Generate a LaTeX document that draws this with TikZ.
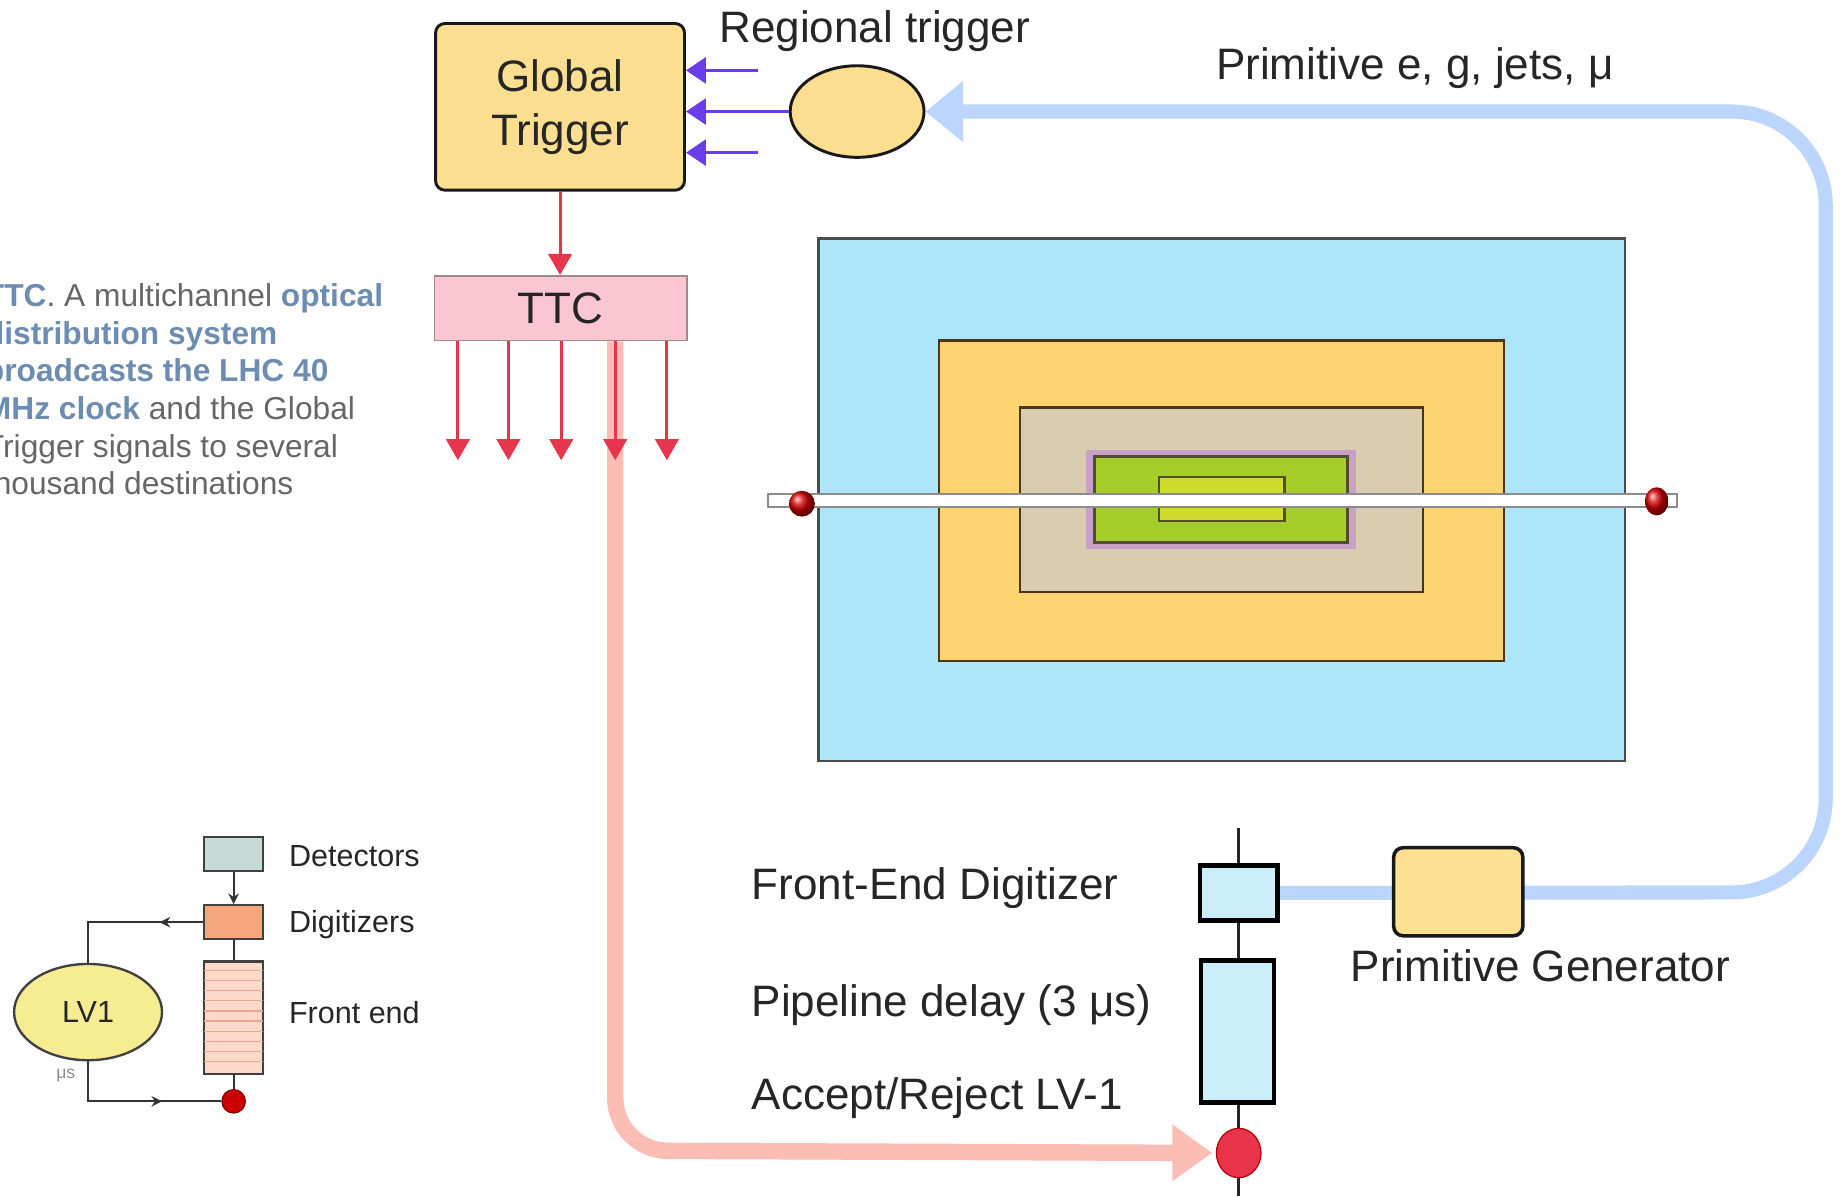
\documentclass[tikz,border=0pt]{standalone}
\usepackage{fontspec}
\setmainfont{Liberation Sans}
\usetikzlibrary{arrows.meta,shapes.geometric,decorations.markings,calc}

\definecolor{gtfill}{HTML}{FCDE90}
\definecolor{ttcfill}{HTML}{F9C6D1}
\definecolor{ttcdraw}{HTML}{9A8A8E}
\definecolor{redc}{HTML}{E6354D}
\definecolor{purpc}{HTML}{6A3DE8}
\definecolor{bluepath}{HTML}{BCD5FC}
\definecolor{pinkpath}{HTML}{FBBDB4}
\definecolor{detouter}{HTML}{AEE6F9}
\definecolor{detorange}{HTML}{FDD46F}
\definecolor{dettan}{HTML}{D9CCB0}
\definecolor{detmauve}{HTML}{C9A0C6}
\definecolor{detgreen}{HTML}{A6CE2B}
\definecolor{detinner}{HTML}{CEDD2E}
\definecolor{febox}{HTML}{CBEEFB}
\definecolor{dotred}{HTML}{E8334A}
\definecolor{pgfill}{HTML}{FDE092}
\definecolor{sdetfill}{HTML}{C6DBD5}
\definecolor{sdigfill}{HTML}{F6A57C}
\definecolor{sfefill}{HTML}{FCDACB}
\definecolor{sfestripe}{HTML}{E8A892}
\definecolor{lvfill}{HTML}{F6EC92}
\definecolor{txtdark}{HTML}{262626}
\definecolor{paragray}{HTML}{666666}
\definecolor{parablue}{HTML}{6C8CB2}

\newcommand\lblfont{\fontsize{37.5}{46}\selectfont}
\newcommand\smallfont{\fontsize{26}{30}\selectfont}
\newcommand\parafont{\fontsize{27}{32}\selectfont}
\newcommand\hl[1]{\textcolor{parablue}{\bfseries #1}}

\pgfdeclarelayer{bg}
\pgfsetlayers{bg,main}

\begin{document}
\begin{tikzpicture}[x=1pt,y=-1pt,
  lbl/.style={text=txtdark, font=\lblfont, inner sep=0pt},
  slbl/.style={text=txtdark, font=\smallfont, inner sep=0pt, anchor=base west},
  redarr/.style={draw=redc, line width=2.5pt, -{Triangle[length=18pt,width=20pt]}},
  purparr/.style={draw=purpc, line width=3pt, -{Triangle[length=17pt,width=22pt]}},
  layer/.style={rectangle, line width=2pt, inner sep=0pt},
  fecell/.style={rectangle, draw=black, line width=4pt, fill=febox, inner sep=0pt},
  sbox/.style={rectangle, draw=black!75, line width=2pt, inner sep=0pt, minimum width=50pt},
  sline/.style={draw=black!80, line width=1.8pt},
]
\useasboundingbox (0,0) rectangle (1568,1019);
\clip (0,0) rectangle (1568,1019);

% ---------------- trigger chain ----------------
\node[rectangle, rounded corners=8pt, draw=black!90, line width=2.5pt, fill=gtfill,
      minimum width=212pt, minimum height=142pt, align=center, font=\lblfont, text=txtdark]
      (gt) at (477,91) {Global\\Trigger};
\node[ellipse, draw=black!90, line width=2.5pt, fill=gtfill, minimum width=114pt,
      minimum height=78pt, inner sep=0pt] (rt) at (730,95) {};
\node[lbl, anchor=base] (rtlbl) at (745,36) {Regional trigger};

\node[rectangle, draw=ttcdraw, line width=1.5pt, fill=ttcfill, minimum width=215pt,
      minimum height=55pt, inner sep=0pt, font=\lblfont, text=txtdark] (ttc) at (477.5,262.5) {TTC};

\coordinate (p1) at (646,60);
\coordinate (p3) at (646,130);
\draw[purparr] (p1) -- (p1 -| gt.east);
\draw[purparr] (rt.west) -- (rt.west -| gt.east);
\draw[purparr] (p3) -- (p3 -| gt.east);

\draw[redarr] (gt.south) -- (gt.south |- ttc.north);

\coordinate (t1) at (390,392);
\coordinate (t2) at (433,392);
\coordinate (t3) at (478,392);
\coordinate (t4) at (524,392);
\coordinate (t5) at (568,392);
\foreach \t in {t1,t2,t3,t4,t5}
  \draw[redarr] (ttc.south -| \t) -- (\t);

\node[lbl, anchor=base] (primlbl) at (1205,68) {Primitive e, g, jets, μ};

% ---------------- detector cross-section ----------------
\node[layer, draw=black!70, fill=detouter, minimum width=687pt, minimum height=445pt] (dout) at (1040.5,425.5) {};
\node[layer, draw=black!60!brown, fill=detorange, minimum width=481pt, minimum height=273pt] (dorg) at (1040.5,426.5) {};
\node[layer, draw=black!60!brown, fill=dettan, minimum width=343pt, minimum height=157pt] (dtan) at (1040.5,425.5) {};
\node[layer, draw=none, fill=detmauve, minimum width=230pt, minimum height=85pt] (dmv) at (1040,425.5) {};
\node[layer, draw=black!55!olive, line width=2.5pt, fill=detgreen, minimum width=216pt, minimum height=73pt] (dgr) at (1040,425.5) {};
\node[layer, draw=black!55!olive, fill=detinner, minimum width=107pt, minimum height=38pt] (din) at (1040.5,425) {};

% beam pipe with the two incoming bunches
\node[rectangle, draw=black!45, line width=1.5pt, fill=white, minimum width=774pt,
      minimum height=11pt, inner sep=0pt] (pipe) at (1041,426.5) {};
\node[circle, shading=ball, ball color=red!85!black, minimum size=22pt, inner sep=0pt] (bl) at (683,429) {};
\node[ellipse, shading=ball, ball color=red!85!black, minimum width=20pt, minimum height=24pt, inner sep=0pt] (br) at (1411,427) {};

% ---------------- front-end column ----------------
\coordinate (fetop) at (1055,705);
\coordinate (febot) at (1055,1019);
\node[fecell, minimum width=66pt, minimum height=47pt] (fe1) at (1055,760.5) {};
\node[fecell, minimum width=62pt, minimum height=121pt] (fe2) at (1054,878.5) {};
\node[ellipse, draw=red!70!black, line width=1pt, fill=dotred, minimum width=38pt,
      minimum height=42pt, inner sep=0pt] (rdot) at (1055,982) {};

\node[rectangle, rounded corners=8pt, draw=black!90, line width=3pt, fill=pgfill,
      minimum width=110pt, minimum height=75pt, inner sep=0pt] (pg) at (1242,759.5) {};

\node[lbl, anchor=base west] (fedlbl) at (640,766) {Front-End Digitizer};
\node[lbl, anchor=base west] (pdlbl) at (640,866) {Pipeline delay (3 μs)};
\node[lbl, anchor=base west] (arlbl) at (640,945) {Accept/Reject LV-1};
\node[lbl, anchor=base] (pglbl) at (1312,836) {Primitive Generator};

% wide data paths, kept behind the boxes
\begin{pgfonlayer}{bg}
  \draw[black!85, line width=2.5pt] (fetop) -- (febot);
  \draw[bluepath, line width=12pt, rounded corners=80pt,
        -{Triangle[length=32pt,width=50pt]}]
       (fe1.east) -- (1555,760) -- (1555,95) -- (rt.east);
  \draw[pinkpath, line width=14pt, rounded corners=45pt,
        -{Triangle[length=34pt,width=46pt]}]
       (ttc.south -| t4) -- (524,980) -- ([xshift=-3pt]rdot.west);
\end{pgfonlayer}

% ---------------- explanatory text ----------------
\node[anchor=north west, align=left, font=\parafont, text=paragray, inner sep=0pt]
  (para) at (-13,241.5)
  {\hl{TTC}. A multichannel \hl{optical}\\
   \hl{distribution system}\\
   \hl{broadcasts the LHC 40}\\
   \hl{MHz clock} and the Global\\
   Trigger signals to several\\
   thousand destinations};

% ---------------- level-1 sketch ----------------
\node[sbox, fill=sdetfill, minimum height=29pt] (sdet) at (199,727.5) {};
\node[sbox, fill=sdigfill, minimum height=29pt] (sdig) at (199,785.5) {};
\node[sbox, fill=sfefill, minimum height=96pt] (sfe) at (199,867) {};
\foreach \k in {1,...,10}
  \draw[sfestripe, line width=1pt] ($(sfe.north west)+(1,\k*8.6)$) -- ($(sfe.north east)+(-1,\k*8.6)$);
\node[circle, draw=red!50!black, line width=1pt, fill=red!80!black, minimum size=20pt, inner sep=0pt] (sdot) at (199,938) {};
\node[ellipse, draw=black!75, line width=2pt, fill=lvfill, minimum width=126pt,
      minimum height=82pt, inner sep=0pt, font=\smallfont, text=txtdark] (lv1) at (75,862) {LV1};

\draw[sline, -{Stealth[length=9pt,width=9pt]}] (sdet.south) -- (sdig.north);
\draw[sline] (sdig.south) -- (sfe.north);
\draw[sline] (sfe.south) -- (sdot.north);
\draw[sline, postaction={decorate}, decoration={markings,
      mark=at position 37pt with {\arrow{Stealth[length=9pt,width=9pt]}}}]
     (sdig.west) -- (sdig.west -| lv1.north) -- (lv1.north);
\draw[sline, postaction={decorate}, decoration={markings,
      mark=at position 97pt with {\arrow{Stealth[length=9pt,width=9pt]}}}]
     (lv1.south) -- (lv1.south |- sdot.west) -- (sdot.west);

\node[font=\fontsize{15}{17}\selectfont, text=black!45, inner sep=0pt] (mus) at (56,916) {μs};

\node[slbl] (sdetlbl) at (246,738) {Detectors};
\node[slbl] (sdiglbl) at (246,794) {Digitizers};
\node[slbl] (sfelbl) at (246,872) {Front end};
\end{tikzpicture}
\end{document}
